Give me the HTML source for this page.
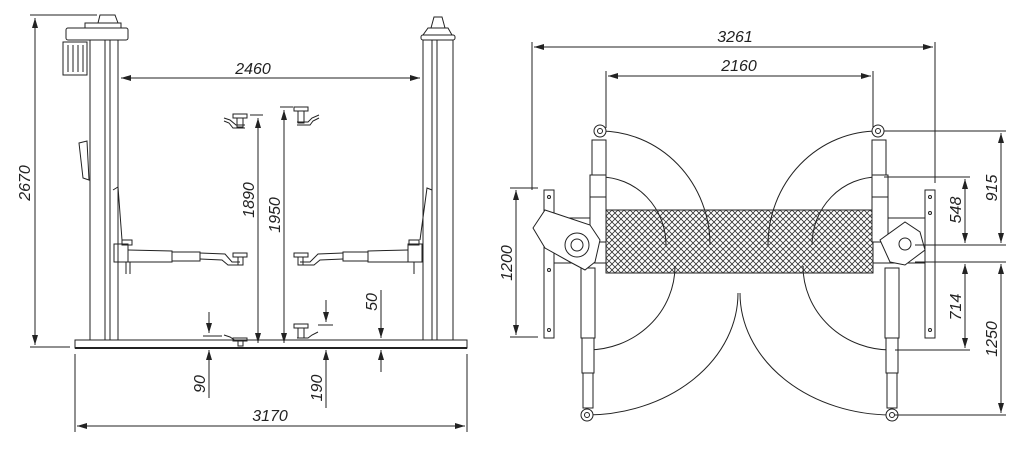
<!DOCTYPE html>
<html><head><meta charset="utf-8"><style>
html,body{margin:0;padding:0;background:#fff;width:1024px;height:450px;overflow:hidden}
text{font-family:"Liberation Sans",sans-serif;font-size:16px;font-style:italic;fill:#222}
</style></head><body>
<svg width="1024" height="450" viewBox="0 0 1024 450" xmlns="http://www.w3.org/2000/svg">
<defs>
<marker id="a" viewBox="0 0 10 6" refX="10" refY="3" markerWidth="10" markerHeight="6" orient="auto-start-reverse"><path d="M0,0 L10,3 L0,6 z" fill="#222"/></marker>
<pattern id="m" width="6" height="6" patternUnits="userSpaceOnUse"><path d="M0,0 L6,6 M6,0 L0,6" stroke="#333" stroke-width="0.8"/></pattern>
</defs>
<g stroke="#222" stroke-width="1" fill="none">
<!-- LEFT VIEW -->
<rect x="75" y="340" width="392" height="8" fill="#fff"/>
<line x1="75" y1="348" x2="467" y2="348" stroke-width="2"/>
<!-- left column -->
<rect x="90" y="40" width="28" height="300"/>
<line x1="105" y1="40" x2="105" y2="340"/><line x1="110" y1="40" x2="110" y2="340"/>
<rect x="66" y="28" width="62" height="12" rx="2" fill="#fff"/>
<rect x="85" y="23" width="36" height="5"/>
<path d="M98,23 L100,15 L115,15 L118,23"/>
<rect x="63" y="42" width="24" height="33"/>
<line x1="68" y1="45" x2="68" y2="72"/><line x1="73" y1="45" x2="73" y2="72"/><line x1="78" y1="45" x2="78" y2="72"/><line x1="83" y1="45" x2="83" y2="72"/>
<path d="M79,143 L87,141 L89,180 L83,178 z"/>
<path d="M113,190 L118,187 L122,240"/>
<!-- right column -->
<rect x="423" y="40" width="30" height="300"/>
<line x1="432" y1="40" x2="432" y2="340"/><line x1="437" y1="40" x2="437" y2="340"/>
<rect x="421" y="35" width="34" height="5" rx="2"/>
<path d="M423,35 L428,28 L448,28 L452,35"/>
<path d="M431,28 L434,17 L442,17 L445,28"/>
<path d="M432,190 L427,188 L420,240"/>
<!-- left arm -->
<rect x="114" y="244" width="14" height="18"/>
<rect x="122" y="240" width="10" height="5"/>
<path d="M128,250 L172,251 L172,262 L128,262"/>
<rect x="172" y="252" width="28" height="9"/>
<path d="M200,253 L225,254 L232,262 L240,262 M200,259 L222,260 L228,265 L240,265"/>
<rect x="233" y="253" width="14" height="4"/><rect x="238" y="257" width="5" height="8"/>
<line x1="126" y1="262" x2="126" y2="274"/><line x1="130" y1="262" x2="130" y2="274"/>
<!-- right arm -->
<rect x="408" y="244" width="14" height="18"/>
<rect x="409" y="240" width="10" height="5"/>
<path d="M408,250 L368,251 L368,262 L408,262"/>
<rect x="343" y="252" width="25" height="9"/>
<path d="M343,253 L318,254 L310,262 L300,262 M343,259 L320,260 L314,265 L300,265"/>
<rect x="294" y="253" width="14" height="4"/><rect x="298" y="257" width="5" height="8"/>
<line x1="414" y1="262" x2="414" y2="274"/>
<!-- top pads -->
<path d="M224,118 L230,120 L236,125 L245,125 M224,121 L229,123 L233,128 L245,128"/>
<rect x="233" y="114" width="14" height="4"/><rect x="237" y="118" width="6" height="9"/>
<path d="M319,115 L312,118 L308,122 L297,122 M319,118 L313,121 L310,125 L297,125"/>
<rect x="294" y="107" width="14" height="4"/><rect x="298" y="111" width="6" height="12"/>
<!-- bottom pads -->
<path d="M224,335 L230,337 L236,341 L245,341"/>
<rect x="233" y="338" width="14" height="3"/><rect x="238" y="341" width="5" height="5"/>
<path d="M318,332 L312,335 L308,338 L297,338"/>
<rect x="294" y="324" width="14" height="4"/><rect x="298" y="328" width="6" height="10"/>
<!-- dims left -->
<line x1="30" y1="15" x2="97" y2="15"/><line x1="30" y1="347" x2="70" y2="347"/>
<line x1="35" y1="18" x2="35" y2="345" marker-start="url(#a)" marker-end="url(#a)"/>
<line x1="121" y1="78" x2="420" y2="78" marker-start="url(#a)" marker-end="url(#a)"/>
<line x1="75" y1="354" x2="75" y2="432"/><line x1="467" y1="354" x2="467" y2="432"/>
<line x1="77" y1="426" x2="465" y2="426" marker-start="url(#a)" marker-end="url(#a)"/>
<line x1="250" y1="115" x2="263" y2="115"/>
<line x1="258" y1="118" x2="258" y2="343" marker-start="url(#a)" marker-end="url(#a)"/>
<line x1="280" y1="107" x2="293" y2="107"/>
<line x1="284" y1="110" x2="284" y2="343" marker-start="url(#a)" marker-end="url(#a)"/>
<line x1="209" y1="312" x2="209" y2="333" marker-end="url(#a)"/>
<line x1="209" y1="398" x2="209" y2="350" marker-end="url(#a)"/>
<line x1="203" y1="336" x2="222" y2="336"/>
<line x1="326" y1="300" x2="326" y2="322" marker-end="url(#a)"/>
<line x1="326" y1="408" x2="326" y2="350" marker-end="url(#a)"/>
<line x1="318" y1="325" x2="333" y2="325"/>
<line x1="381" y1="290" x2="381" y2="338" marker-end="url(#a)"/>
<line x1="381" y1="372" x2="381" y2="350" marker-end="url(#a)"/>
<!-- RIGHT VIEW -->
<rect x="606" y="210" width="267" height="63" fill="url(#m)"/>
<path d="M606,210 L873,210 M606,273 L873,273"/>
<rect x="544" y="190" width="10" height="148" fill="#fff"/>
<circle cx="549" cy="197" r="1.5"/><circle cx="549" cy="330" r="1.5"/><circle cx="549" cy="270" r="1.5"/>
<rect x="925" y="190" width="10" height="148" fill="#fff"/>
<circle cx="930" cy="197" r="1.5"/><circle cx="930" cy="330" r="1.5"/><circle cx="930" cy="213" r="1.5"/>
<rect x="554" y="218" width="52" height="45" fill="#fff"/>
<rect x="873" y="218" width="52" height="45" fill="#fff"/>
<!-- arcs -->
<path d="M600,131 A 110 114 0 0 1 710 245"/>
<path d="M600,177 A 66 68 0 0 1 666 245"/>
<path d="M878,131 A 110 114 0 0 0 768 245"/>
<path d="M878,177 A 66 68 0 0 0 812 245"/>
<path d="M587,415 A 152 122 0 0 0 738 293"/>
<path d="M587,350 A 88 84 0 0 0 675 266"/>
<path d="M892,415 A 152 122 0 0 1 740 293"/>
<path d="M892,350 A 88 84 0 0 1 803 266"/>
<!-- left arms -->
<rect x="592" y="140" width="14" height="35" fill="#fff"/>
<rect x="590" y="175" width="16" height="22" fill="#fff"/>
<rect x="590" y="197" width="16" height="45" fill="#fff"/>
<circle cx="600" cy="131" r="6" fill="#fff"/><circle cx="600" cy="131" r="2.5"/>
<rect x="581" y="268" width="14" height="70" fill="#fff"/>
<rect x="582" y="338" width="12" height="35" fill="#fff"/>
<rect x="583" y="373" width="10" height="35" fill="#fff"/>
<circle cx="587" cy="415" r="6" fill="#fff"/><circle cx="587" cy="415" r="2.5"/>
<path d="M533,228 L545,210 L560,215 L590,225 L600,240 L595,262 L585,270 L570,262 L545,248 z" fill="#fff"/>
<circle cx="577" cy="245" r="12" fill="#fff"/><circle cx="577" cy="245" r="6"/>
<!-- right arms -->
<rect x="872" y="140" width="14" height="35" fill="#fff"/>
<rect x="872" y="175" width="16" height="22" fill="#fff"/>
<rect x="872" y="197" width="16" height="45" fill="#fff"/>
<circle cx="878" cy="131" r="6" fill="#fff"/><circle cx="878" cy="131" r="2.5"/>
<rect x="885" y="268" width="14" height="70" fill="#fff"/>
<rect x="886" y="338" width="12" height="35" fill="#fff"/>
<rect x="887" y="373" width="10" height="35" fill="#fff"/>
<circle cx="892" cy="415" r="6" fill="#fff"/><circle cx="892" cy="415" r="2.5"/>
<path d="M880,240 L905,222 L920,232 L925,250 L905,265 L890,262 z" fill="#fff"/>
<circle cx="905" cy="244" r="6"/>
<!-- dims right -->
<line x1="532" y1="42" x2="532" y2="190"/><line x1="935" y1="42" x2="935" y2="183"/>
<line x1="534" y1="47" x2="933" y2="47" marker-start="url(#a)" marker-end="url(#a)"/>
<line x1="606" y1="71" x2="606" y2="128"/><line x1="873" y1="71" x2="873" y2="128"/>
<line x1="608" y1="76" x2="871" y2="76" marker-start="url(#a)" marker-end="url(#a)"/>
<line x1="510" y1="188" x2="538" y2="188"/><line x1="510" y1="337" x2="538" y2="337"/>
<line x1="516" y1="190" x2="516" y2="335" marker-start="url(#a)" marker-end="url(#a)"/>
<line x1="884" y1="131" x2="1006" y2="131"/>
<line x1="884" y1="177" x2="970" y2="177"/>
<line x1="915" y1="245" x2="1006" y2="245"/>
<line x1="915" y1="262" x2="1006" y2="262"/>
<line x1="895" y1="350" x2="970" y2="350"/>
<line x1="895" y1="415" x2="1006" y2="415"/>
<line x1="1001" y1="133" x2="1001" y2="243" marker-start="url(#a)" marker-end="url(#a)"/>
<line x1="965" y1="179" x2="965" y2="243" marker-start="url(#a)" marker-end="url(#a)"/>
<line x1="965" y1="264" x2="965" y2="348" marker-start="url(#a)" marker-end="url(#a)"/>
<line x1="1001" y1="264" x2="1001" y2="413" marker-start="url(#a)" marker-end="url(#a)"/>
</g>
<!-- labels -->
<text x="253" y="74" text-anchor="middle">2460</text>
<text x="270" y="421" text-anchor="middle">3170</text>
<text transform="translate(30,183) rotate(-90)" text-anchor="middle">2670</text>
<text transform="translate(254,200) rotate(-90)" text-anchor="middle">1890</text>
<text transform="translate(280,215) rotate(-90)" text-anchor="middle">1950</text>
<text transform="translate(377,302) rotate(-90)" text-anchor="middle">50</text>
<text transform="translate(205,384) rotate(-90)" text-anchor="middle">90</text>
<text transform="translate(322,388) rotate(-90)" text-anchor="middle">190</text>
<text x="735" y="42" text-anchor="middle">3261</text>
<text x="739" y="71" text-anchor="middle">2160</text>
<text transform="translate(512,263) rotate(-90)" text-anchor="middle">1200</text>
<text transform="translate(997,188) rotate(-90)" text-anchor="middle">915</text>
<text transform="translate(961,210) rotate(-90)" text-anchor="middle">548</text>
<text transform="translate(961,307) rotate(-90)" text-anchor="middle">714</text>
<text transform="translate(997,339) rotate(-90)" text-anchor="middle">1250</text>
</svg>
</body></html>
